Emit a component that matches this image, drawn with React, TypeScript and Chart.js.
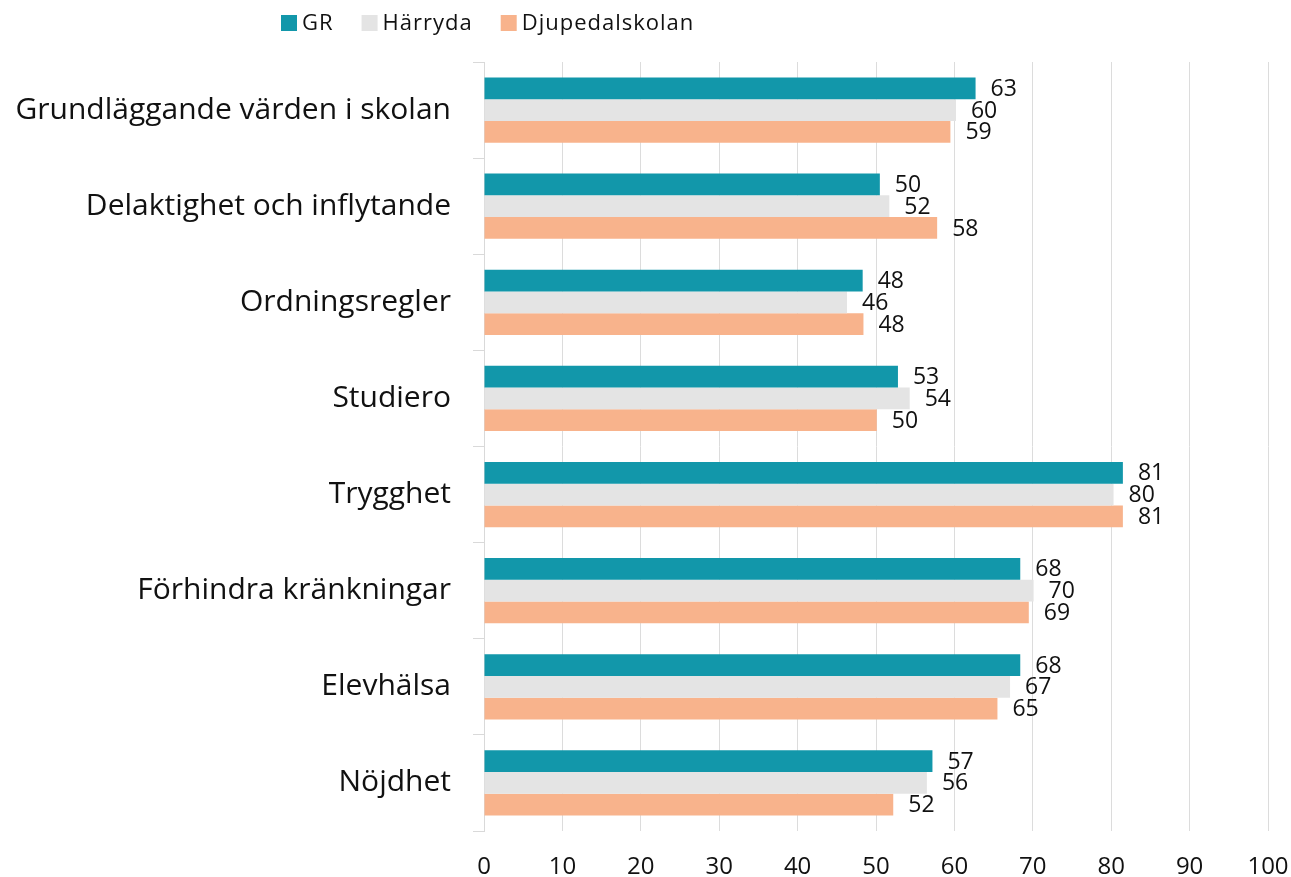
import React, { useEffect, useRef } from "react";
import { Chart, registerables } from "chart.js";

Chart.register(...registerables);

const categories = [
  "Grundläggande värden i skolan",
  "Delaktighet och inflytande",
  "Ordningsregler",
  "Studiero",
  "Trygghet",
  "Förhindra kränkningar",
  "Elevhälsa",
  "Nöjdhet",
];

const seriesNames = ["GR", "Härryda", "Djupedalskolan"];
const grValues = [62.7, 50.49, 48.3, 52.8, 81.49, 68.4, 68.4, 57.2];
const harrydaValues = [60.2, 51.7, 46.3, 54.3, 80.3, 70.1, 67.1, 56.49];
const djupedalValues = [59.49, 57.8, 48.4, 50.1, 81.49, 69.49, 65.49, 52.2];
const seriesColors = ["#1297AA", "#E4E4E4", "#F8B38C"];
const xTicks = [0, 10, 20, 30, 40, 50, 60, 70, 80, 90, 100];

const FONT = "'Open Sans', 'Noto Sans', sans-serif";

const dataLabelPlugin = {
  id: "dataLabels",
  afterDatasetsDraw(chart: any) {
    const ctx = chart.ctx;
    ctx.save();
    ctx.font = `23px ${FONT}`;
    ctx.fillStyle = "#111";
    ctx.textAlign = "left";
    ctx.textBaseline = "middle";
    chart.data.datasets.forEach((ds: any, i: number) => {
      const meta = chart.getDatasetMeta(i);
      meta.data.forEach((bar: any, j: number) => {
        const v = ds.data[j];
        ctx.fillText(String(Math.round(v)), bar.x + 15, bar.y + 1);
      });
    });
    ctx.restore();
  },
};

const customLegendPlugin = {
  id: "customLegend",
  afterDraw(chart: any) {
    const ctx = chart.ctx;
    ctx.save();
    ctx.font = `22px ${FONT}`;
    (ctx as any).letterSpacing = "1px";
    ctx.textAlign = "left";
    ctx.textBaseline = "middle";
    let x = 281;
    const boxTop = 15;
    const box = 16;
    chart.data.datasets.forEach((ds: any) => {
      ctx.fillStyle = ds.backgroundColor;
      ctx.fillRect(x, boxTop, box, box);
      x += box + 5;
      ctx.fillStyle = "#111";
      ctx.fillText(ds.label, x, boxTop + box / 2 + 1);
      x += ctx.measureText(ds.label).width + 28;
    });
    (ctx as any).letterSpacing = "0px";
    ctx.restore();
  },
};

export default function App() {
  const canvasRef = useRef<HTMLCanvasElement | null>(null);

  useEffect(() => {
    document.body.style.margin = "0";
    const canvas = canvasRef.current;
    if (!canvas) return;
    const values = [grValues, harrydaValues, djupedalValues];
    const chart = new Chart(canvas, {
      type: "bar",
      data: {
        labels: categories,
        datasets: seriesNames.map((name, i) => ({
          label: name,
          data: values[i],
          backgroundColor: seriesColors[i],
          borderWidth: 0,
          categoryPercentage: 0.68,
          barPercentage: 1,
        })),
      },
      options: {
        indexAxis: "y",
        animation: false,
        responsive: false,
        maintainAspectRatio: false,
        layout: { padding: { left: 0, right: 0, top: 62, bottom: 0 } },
        plugins: {
          legend: { display: false },
          tooltip: { enabled: false },
        },
        scales: {
          x: {
            min: 0,
            max: 100,
            afterBuildTicks(scale: any) {
              scale.ticks = xTicks.map((v) => ({ value: v }));
            },
            afterFit(scale: any) {
              scale.height = 46;
              scale.paddingRight = 23;
              scale.paddingLeft = 0;
            },
            grid: {
              color: "#DCDCDC",
              lineWidth: 1,
              drawTicks: false,
            },
            border: { display: false },
            ticks: {
              color: "#111",
              padding: 22,
              font: { family: FONT, size: 24 },
            },
          },
          y: {
            afterFit(scale: any) {
              scale.width = 484;
            },
            grid: {
              offset: true,
              drawOnChartArea: false,
              drawTicks: true,
              tickLength: 11,
              color: "#D9D9D9",
            },
            border: { display: true, color: "#D9D9D9" },
            ticks: {
              color: "#111",
              padding: 22,
              font: { family: FONT, size: 30 },
            },
          },
        },
      },
      plugins: [dataLabelPlugin, customLegendPlugin],
    } as any);
    return () => chart.destroy();
  }, []);

  return (
    <div style={{ width: 1291, height: 877 }}>
      <canvas ref={canvasRef} width={1291} height={877} style={{ width: 1291, height: 877 }} />
    </div>
  );
}
